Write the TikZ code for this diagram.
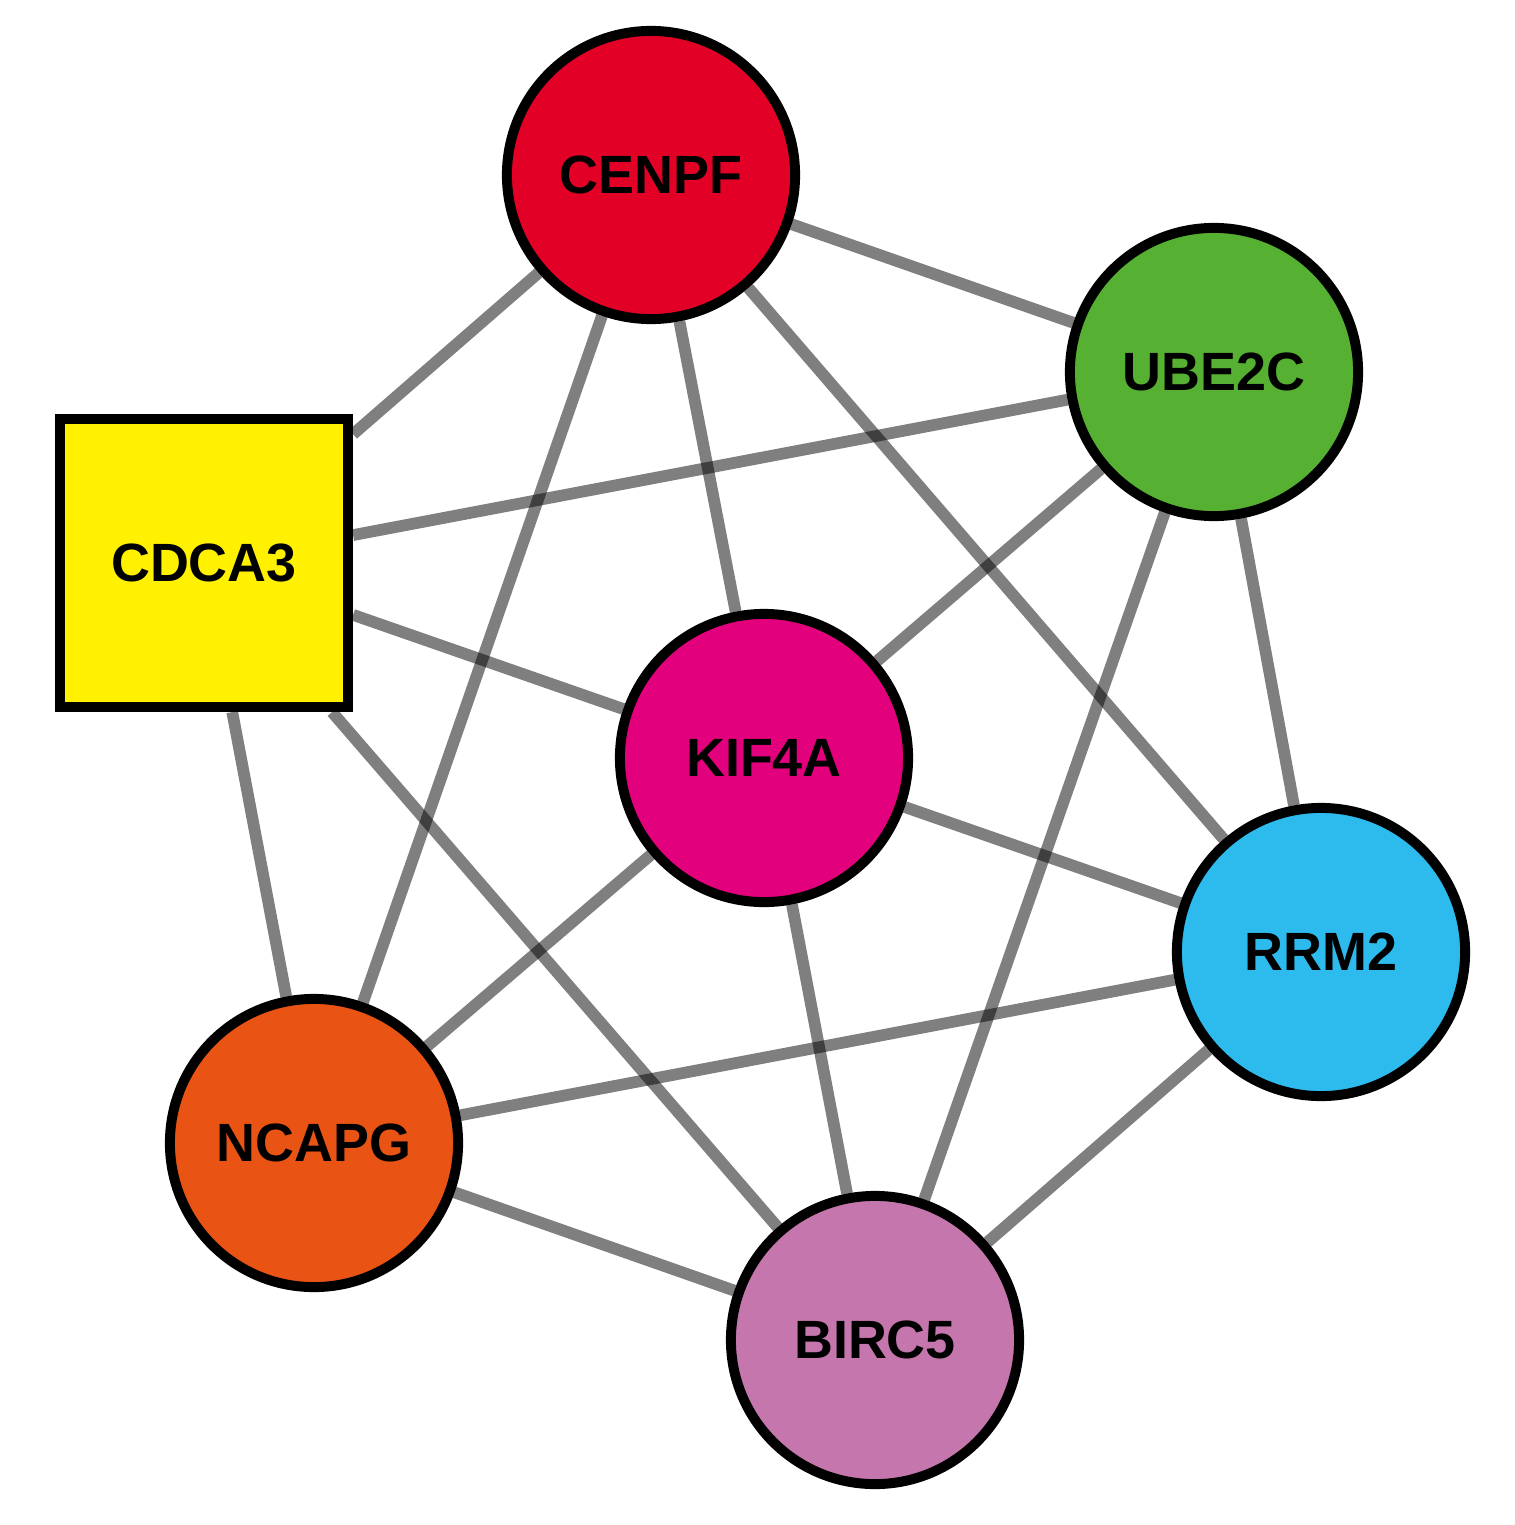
\documentclass[tikz,border=0pt]{standalone}
\usepackage{fontspec}
\setmainfont{Liberation Sans}
\usetikzlibrary{backgrounds}
\definecolor{cred}{HTML}{E30027}
\definecolor{cgreen}{HTML}{56B031}
\definecolor{cyel}{HTML}{FFF100}
\definecolor{cmag}{HTML}{E2007C}
\definecolor{cblue}{HTML}{2DBBEE}
\definecolor{corange}{HTML}{E95314}
\definecolor{cpink}{HTML}{C577AD}
\begin{document}
\begin{tikzpicture}[x=0.3mm,y=-0.3mm,
  gene/.style={circle,draw=black,line width=8.5pt,minimum size=246pt,inner sep=0pt,font=\fontsize{46}{50}\selectfont\bfseries},
  box/.style={rectangle,draw=black,line width=8.5pt,minimum size=246pt,inner sep=0pt,font=\fontsize{46}{50}\selectfont\bfseries},
  edge/.style={draw=black,opacity=0.5,line width=10pt}]
\useasboundingbox (0,0) rectangle (1514,1525);
\node[gene,fill=cred] (cenpf) at (651,175) {CENPF};
\node[gene,fill=cgreen] (ube2c) at (1214,372) {UBE2C};
\node[box,fill=cyel] (cdca3) at (204,563) {CDCA3};
\node[gene,fill=cmag] (kif4a) at (764,758) {KIF4A};
\node[gene,fill=cblue] (rrm2) at (1321,952) {RRM2};
\node[gene,fill=corange] (ncapg) at (314,1143) {NCAPG};
\node[gene,fill=cpink] (birc5) at (875,1340) {BIRC5};
\begin{scope}[on background layer]
\foreach \a/\b in {cenpf/cdca3,cenpf/ube2c,cenpf/kif4a,cenpf/rrm2,cenpf/ncapg,
  cdca3/ube2c,cdca3/kif4a,cdca3/ncapg,cdca3/birc5,ube2c/kif4a,ube2c/rrm2,ube2c/birc5,
  kif4a/rrm2,kif4a/ncapg,kif4a/birc5,rrm2/ncapg,rrm2/birc5,ncapg/birc5}
  \draw[edge] (\a) -- (\b);
\end{scope}
\end{tikzpicture}
\end{document}
